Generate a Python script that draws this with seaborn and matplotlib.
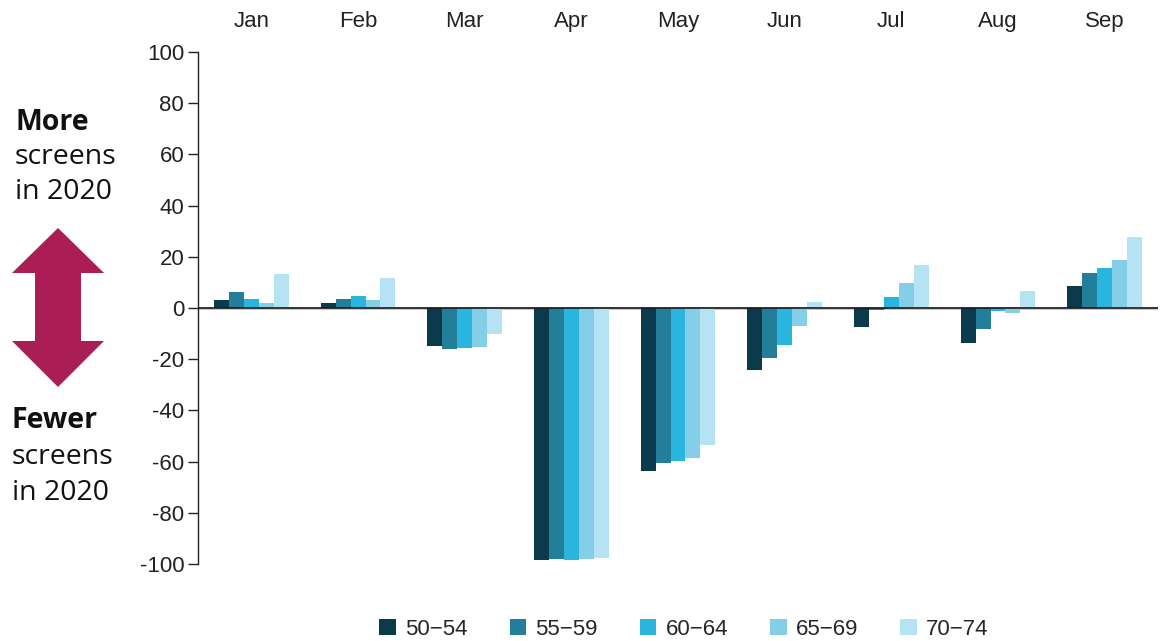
import numpy as np
import pandas as pd
import matplotlib
matplotlib.use('Agg')
import matplotlib.pyplot as plt
from matplotlib.patches import Polygon
import seaborn as sns

# Data
months = ['Jan', 'Feb', 'Mar', 'Apr', 'May', 'Jun', 'Jul', 'Aug', 'Sep']
age_groups = ['50\u221254', '55\u221259', '60\u221264', '65\u221269', '70\u221274']
age_50_54 = [3.1, 1.8, -14.8, -98.4, -63.8, -24.2, -7.5, -13.8, 8.7]
age_55_59 = [6.4, 3.4, -16.1, -98.2, -60.5, -19.5, -0.9, -8.3, 13.7]
age_60_64 = [3.5, 4.8, -15.6, -98.4, -59.9, -14.5, 4.4, -1.3, 15.6]
age_65_69 = [2.0, 3.1, -15.1, -98.0, -58.5, -6.9, 9.9, -1.9, 18.9]
age_70_74 = [13.3, 11.6, -10.3, -97.7, -53.6, 2.5, 16.9, 6.6, 27.9]
colors = ['#0b3a4c', '#237f99', '#29b5de', '#85cee8', '#b5e3f4']

series = [age_50_54, age_55_59, age_60_64, age_65_69, age_70_74]
rows = []
for grp, vals in zip(age_groups, series):
    for m, v in zip(months, vals):
        rows.append({'Month': m, 'Age': grp, 'Change': v})
df = pd.DataFrame(rows)

sns.set_style('white')
plt.rcParams['font.family'] = ['Liberation Sans', 'DejaVu Sans']
plt.rcParams['axes.unicode_minus'] = False

fig = plt.figure(figsize=(11.65, 6.41), dpi=100)
ax = fig.add_axes([0.170, 0.120, 0.824, 0.799])

sns.barplot(data=df, x='Month', y='Change', hue='Age', order=months,
            hue_order=age_groups, palette=colors, width=0.7, gap=0,
            linewidth=0, saturation=1, ax=ax, legend=True)

ax.set_xlim(-0.5, 8.5)
ax.set_ylim(-100, 100)
ax.set_yticks(np.arange(-100, 101, 20))
ax.axhline(0, color='#c8c8c8', lw=2.2, zorder=0.5)
ax.axhline(0, color='#1a1a1a', lw=1.2, zorder=3)

ax.xaxis.tick_top()
ax.tick_params(axis='x', length=0, labelsize=16, pad=14, colors='#222222')
ax.tick_params(axis='y', length=7, width=1, labelsize=16, colors='#222222',
               direction='out', left=True, pad=3)
ax.set_xlabel('')
ax.set_ylabel('')
for s in ['top', 'right', 'bottom']:
    ax.spines[s].set_visible(False)
ax.spines['left'].set_color('#222222')
ax.spines['left'].set_linewidth(1)

# legend at the bottom
handles, labels = ax.get_legend_handles_labels()
ax.get_legend().remove()
fig.legend(handles, labels, loc='center', bbox_to_anchor=(0.587, 0.018),
           ncol=5, frameon=False, fontsize=16, handlelength=0.75,
           handleheight=0.75, handletextpad=0.4, columnspacing=1.9)

# side annotation
side_font = ['Open Sans', 'Noto Sans', 'DejaVu Sans']
W, H = 1165, 641
def fy(py):
    return 1 - py / H

side_size = 20.5
fig.text(15 / W, fy(122), 'More', fontsize=side_size, fontweight='bold', family=side_font,
         va='center', ha='left', color='#111111')
fig.text(15 / W, fy(157), 'screens', fontsize=side_size, family=side_font,
         va='center', ha='left', color='#111111')
fig.text(15 / W, fy(192), 'in 2020', fontsize=side_size, family=side_font,
         va='center', ha='left', color='#111111')
fig.text(12 / W, fy(421), 'Fewer', fontsize=side_size, fontweight='bold', family=side_font,
         va='center', ha='left', color='#111111')
fig.text(12 / W, fy(457), 'screens', fontsize=side_size, family=side_font,
         va='center', ha='left', color='#111111')
fig.text(12 / W, fy(493), 'in 2020', fontsize=side_size, family=side_font,
         va='center', ha='left', color='#111111')

arrow_px = [(58, 228), (104, 273), (81, 273), (81, 341), (104, 341), (58, 387),
            (12, 341), (35, 341), (35, 273), (12, 273)]
arrow = Polygon([(x / W, fy(y)) for x, y in arrow_px], closed=True,
                transform=fig.transFigure, facecolor='#ab1e55', edgecolor='none')
fig.patches.append(arrow)

fig.savefig('out.png', dpi=100)
